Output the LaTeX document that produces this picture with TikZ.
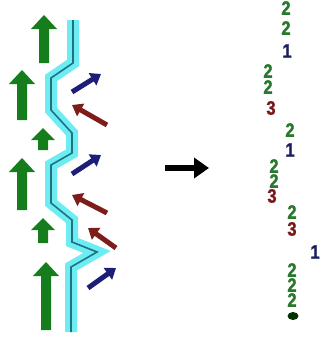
\documentclass[tikz,border=0pt]{standalone}
\usepackage{fontspec}
\setsansfont{Liberation Sans}
\newfontfamily\digitfont[BoldFeatures={FakeBold=1.5}]{Liberation Sans}
\usetikzlibrary{arrows.meta}
\definecolor{garr}{RGB}{22,125,28}
\definecolor{barr}{RGB}{28,30,120}
\definecolor{rarr}{RGB}{125,28,25}
\definecolor{bandc}{RGB}{110,236,244}
\definecolor{bandl}{RGB}{30,115,125}
\definecolor{dgreen}{RGB}{40,120,45}
\definecolor{dred}{RGB}{120,25,25}
\definecolor{dblue}{RGB}{25,30,95}
\newcommand\garrow[5]{% cx, top, bottom, head length, head half width
  \fill[garr] ({#1-5},{#3}) -- ({#1-5},{#2+#4}) -- ({#1-#5},{#2+#4}) -- ({#1},{#2})
    -- ({#1+#5},{#2+#4}) -- ({#1+5},{#2+#4}) -- ({#1+5},{#3}) -- cycle;}
\tikzset{
  band/.style={line width=12pt, bandc, line join=miter},
  bandline/.style={line width=1.6pt, bandl, line join=miter},
  diag/.style={line width=5pt, -{Triangle[length=10pt,width=14pt]}},
  digit/.style={font=\digitfont\bfseries\fontsize{15}{15}\selectfont, xscale=1.1, yscale=1.3, inner sep=0pt},
  bigarrow/.style={line width=6pt, -{Triangle[length=15pt,width=20pt]}}
}
\begin{document}
\begin{tikzpicture}[x=1pt,y=-1pt]
\useasboundingbox (0,0) rectangle (320,340);
% green arrows
\garrow{44}{15}{63}{14}{13}
\garrow{22}{70}{120}{14}{13}
\garrow{43}{128}{150}{12}{12}
\garrow{22}{158}{210}{14}{13}
\garrow{43}{218}{243}{12}{12}
\garrow{46}{262}{330}{14}{13}
% cyan band
\def\bandpath{(73,20) -- (73,63) -- (51,78) -- (51,110) -- (72,133) -- (72,153) -- (51,165) -- (51,203) -- (72,220) -- (72,242) -- (97,252) -- (71,267) -- (71,332)}
\draw[band] \bandpath;
\draw[bandline] \bandpath;
% diagonal arrows
\draw[diag, barr] (72,92) -- (101,74);
\draw[diag, rarr] (107,125) -- (72,105);
\draw[diag, barr] (72,174) -- (101,155);
\draw[diag, rarr] (107,213) -- (72,195);
\draw[diag, rarr] (116,248) -- (88,228);
\draw[diag, barr] (88,288) -- (116,268);
% black arrow
\draw[bigarrow, black] (165,168) -- (209,168);
% digits
\node[digit, dgreen] (d1) at (286,8) {2};
\node[digit, dgreen] (d2) at (286,28) {2};
\node[digit, dblue] (d3) at (287,51) {1};
\node[digit, dgreen] (d4) at (268,71) {2};
\node[digit, dgreen] (d5) at (268,87) {2};
\node[digit, dred] (d6) at (271,108) {3};
\node[digit, dgreen] (d7) at (290,130) {2};
\node[digit, dblue] (d8) at (290,150) {1};
\node[digit, dgreen] (d9) at (274,166) {2};
\node[digit, dgreen] (d10) at (274,181) {2};
\node[digit, dred] (d11) at (272,196) {3};
\node[digit, dgreen] (d12) at (292,212) {2};
\node[digit, dred] (d13) at (292,229) {3};
\node[digit, dblue] (d14) at (315,252) {1};
\node[digit, dgreen] (d15) at (292,270) {2};
\node[digit, dgreen] (d16) at (292,285) {2};
\node[digit, dgreen] (d17) at (292,300) {2};
\fill[black!80!green] (293,316) ellipse (5.5 and 4);
\end{tikzpicture}
\end{document}
